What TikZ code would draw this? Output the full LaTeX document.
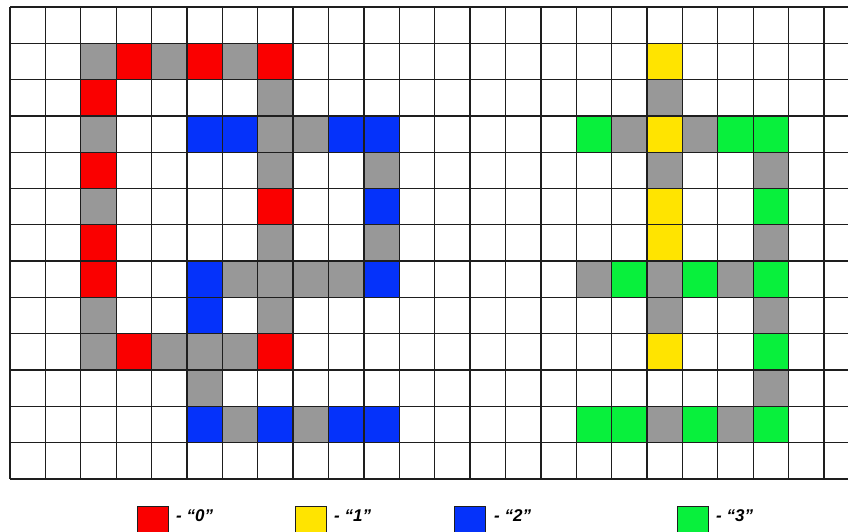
\documentclass[tikz,border=0pt]{standalone}
\usepackage{fontspec}
\setmainfont{Liberation Sans}
\definecolor{cred}{RGB}{250,0,0}
\definecolor{cgray}{RGB}{152,152,152}
\definecolor{cblue}{RGB}{5,50,250}
\definecolor{cyellow}{RGB}{255,228,0}
\definecolor{cgreen}{RGB}{8,240,60}
\definecolor{gridc}{RGB}{30,30,30}
\tikzset{
  legbox/.style={draw=gridc, line width=0.9pt, minimum width=31pt, minimum height=31pt, inner sep=0pt, anchor=north west},
  legtext/.style={anchor=west, inner sep=0pt, font=\fontsize{17}{17}\selectfont\bfseries\itshape},
  gridline/.style={draw=gridc, line width=1.3pt}
}
\newcommand{\cw}{35.39}
\newcommand{\chh}{36.3}
\begin{document}
\begin{tikzpicture}[x=1pt,y=-1pt]
\clip (0,0) rectangle (848,531);
\fill[white] (0,0) rectangle (848,531);
% coloured cells
\foreach \c/\r in {3/1,5/1,7/1,2/2,2/4,7/5,2/6,2/7,3/9,7/9}
  \fill[cred] ({10+\c*\cw},{7+\r*\chh}) rectangle ++(\cw,\chh);
\foreach \c/\r in {2/1,4/1,6/1,7/2,2/3,7/3,8/3,7/4,10/4,2/5,7/6,10/6,6/7,7/7,8/7,9/7,2/8,7/8,2/9,4/9,5/9,6/9,5/10,6/11,8/11,18/2,17/3,19/3,18/4,21/4,21/6,16/7,18/7,20/7,18/8,21/8,21/10,18/11,20/11}
  \fill[cgray] ({10+\c*\cw},{7+\r*\chh}) rectangle ++(\cw,\chh);
\foreach \c/\r in {5/3,6/3,9/3,10/3,10/5,5/7,10/7,5/8,5/11,7/11,9/11,10/11}
  \fill[cblue] ({10+\c*\cw},{7+\r*\chh}) rectangle ++(\cw,\chh);
\foreach \c/\r in {18/1,18/3,18/5,18/6,18/9}
  \fill[cyellow] ({10+\c*\cw},{7+\r*\chh}) rectangle ++(\cw,\chh);
\foreach \c/\r in {16/3,20/3,21/3,21/5,17/7,19/7,21/7,21/9,16/11,17/11,19/11,21/11}
  \fill[cgreen] ({10+\c*\cw},{7+\r*\chh}) rectangle ++(\cw,\chh);
% grid
\foreach \i in {0,...,23}
  \draw[gridline] ({10+\i*\cw},7) -- ({10+\i*\cw},{7+13*\chh});
\foreach \j in {0,...,13}
  \draw[gridline] (10,{7+\j*\chh}) -- (850,{7+\j*\chh});
% legend
\node[legbox, fill=cred] (l0) at (137,506) {};
\node[legtext] (t0) at (176,516) {- “0”};
\node[legbox, fill=cyellow] (l1) at (295,506) {};
\node[legtext] (t1) at (334,516) {- “1”};
\node[legbox, fill=cblue] (l2) at (454,506) {};
\node[legtext] (t2) at (494,516) {- “2”};
\node[legbox, fill=cgreen] (l3) at (677,506) {};
\node[legtext] (t3) at (716,516) {- “3”};
\end{tikzpicture}
\end{document}
